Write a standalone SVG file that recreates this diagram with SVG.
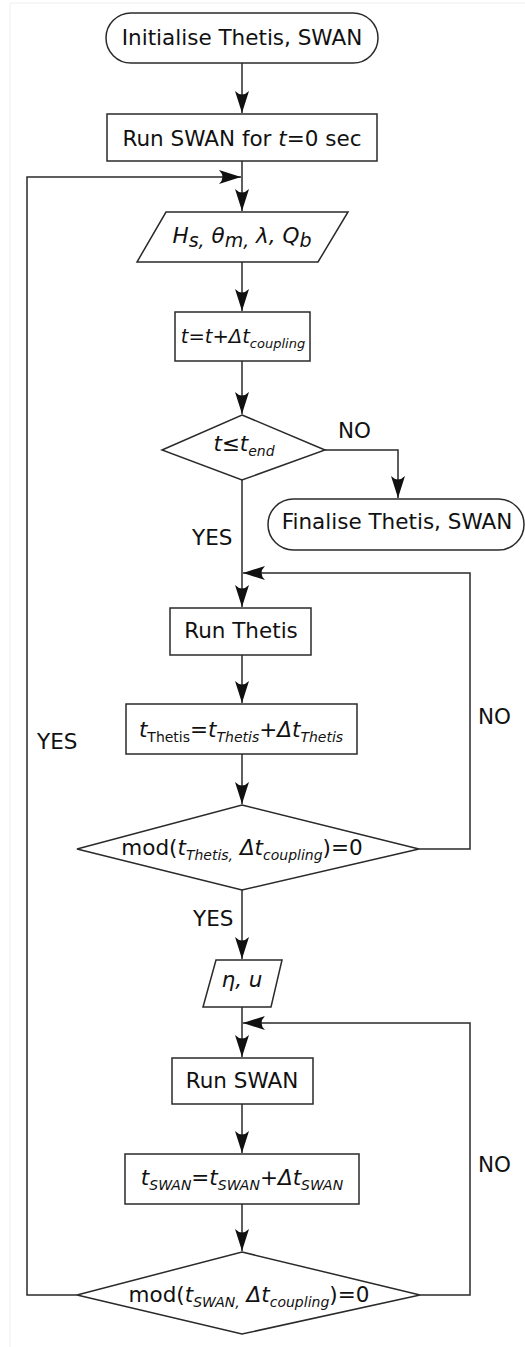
<svg xmlns="http://www.w3.org/2000/svg" width="525" height="1347" viewBox="0 0 525 1347">
<defs>
<style>
.n{fill:#fff;stroke:#2a2a2a;stroke-width:1.5}
.c{fill:none;stroke:#2a2a2a;stroke-width:1.5}
text{font-family:"DejaVu Sans",Verdana,sans-serif;font-size:21.5px;fill:#111;text-anchor:middle}
.i{font-style:italic}
.s{font-size:14px}
.s2{font-size:19px}
.lb{text-anchor:start}
</style>
<marker id="ah" markerUnits="userSpaceOnUse" markerWidth="26" markerHeight="16" viewBox="-24 -8 26 16" refX="0" refY="0" orient="auto">
<path d="M0,0 L-22,-7 Q-15,0 -22,7 Z" fill="#111"/>
</marker>
</defs>
<rect width="525" height="1347" fill="#fff"/>
<path d="M10,1347 V3 H525" fill="none" stroke="#eee" stroke-width="1"/>

<g id="connectors">
<path class="c" d="M242,63 V113" marker-end="url(#ah)"/>
<path class="c" d="M242,161 V211" marker-end="url(#ah)"/>
<path class="c" d="M77,1295 H27 V177 H241" marker-end="url(#ah)"/>
<path class="c" d="M242,262 V311" marker-end="url(#ah)"/>
<path class="c" d="M242,361 V414" marker-end="url(#ah)"/>
<path class="c" d="M325,450 H398 V498" marker-end="url(#ah)"/>
<path class="c" d="M242,480 V607" marker-end="url(#ah)"/>
<path class="c" d="M419,849 H470 V573 H243" marker-end="url(#ah)"/>
<path class="c" d="M242,655 V703" marker-end="url(#ah)"/>
<path class="c" d="M242,754 V804" marker-end="url(#ah)"/>
<path class="c" d="M242,890 V959" marker-end="url(#ah)"/>
<path class="c" d="M242,1007 V1057" marker-end="url(#ah)"/>
<path class="c" d="M420,1295 H470 V1023 H243" marker-end="url(#ah)"/>
<path class="c" d="M242,1104 V1153" marker-end="url(#ah)"/>
<path class="c" d="M242,1204 V1251" marker-end="url(#ah)"/>
<text class="lb" x="338" y="438">NO</text>
<text class="lb" x="192" y="545">YES</text>
<text class="lb" x="478" y="724">NO</text>
<text class="lb" x="193" y="926">YES</text>
<text class="lb" x="37" y="749">YES</text>
<text class="lb" x="478" y="1172">NO</text>
</g>

<g id="start">
<rect class="n" x="106" y="13" width="272" height="50" rx="25"/>
<text x="242" y="45">Initialise Thetis, SWAN</text>
</g>
<g id="run0">
<rect class="n" x="107" y="114" width="270" height="47"/>
<text x="242" y="146">Run SWAN for <tspan class="i">t</tspan>=0 sec</text>
</g>
<g id="io1">
<polygon class="n" points="166,212 348,212 318,262 137,262"/>
<text x="242" y="243" class="i">H<tspan class="s2" dy="4">s,</tspan><tspan dy="-4"> θ</tspan><tspan class="s2" dy="4">m,</tspan><tspan dy="-4"> λ, Q</tspan><tspan class="s2" dy="4">b</tspan></text>
</g>
<g id="inc">
<rect class="n" x="175" y="312" width="135" height="49"/>
<text x="243" y="343" style="font-size:19.5px"><tspan class="i">t</tspan>=<tspan class="i">t</tspan>+<tspan class="i">Δt</tspan><tspan class="i" style="font-size:13px" dy="5">coupling</tspan></text>
</g>
<g id="dec1">
<polygon class="n" points="242,415 325,450 242,480 162,450"/>
<text x="244" y="451" class="i">t≤t<tspan class="s" dy="5">end</tspan></text>
</g>
<g id="final">
<rect class="n" x="268" y="499" width="256" height="51" rx="25.5"/>
<text x="397" y="529">Finalise Thetis, SWAN</text>
</g>
<g id="runThetis">
<rect class="n" x="170" y="608" width="141" height="47"/>
<text x="241" y="638">Run Thetis</text>
</g>
<g id="tThetis">
<rect class="n" x="126" y="704" width="231" height="50"/>
<text x="241" y="737"><tspan class="i">t</tspan><tspan class="s" dy="5">Thetis</tspan><tspan dy="-5">=</tspan><tspan class="i">t</tspan><tspan class="i s" dy="5">Thetis</tspan><tspan dy="-5">+</tspan><tspan class="i">Δt</tspan><tspan class="i s" dy="5">Thetis</tspan></text>
</g>
<g id="dec2">
<polygon class="n" points="242,805 419,849 242,890 77,849"/>
<text x="242" y="855">mod(<tspan class="i">t</tspan><tspan class="i s" dy="5">Thetis,</tspan><tspan class="i" dy="-5"> Δt</tspan><tspan class="i s" dy="5">coupling</tspan><tspan dy="-5">)=0</tspan></text>
</g>
<g id="io2">
<polygon class="n" points="216,960 282,960 271,1007 203,1007"/>
<text x="242" y="987" class="i">η, u</text>
</g>
<g id="runSWAN">
<rect class="n" x="172" y="1058" width="141" height="46"/>
<text x="242" y="1088">Run SWAN</text>
</g>
<g id="tSWAN">
<rect class="n" x="125" y="1154" width="234" height="50"/>
<text x="242" y="1185" class="i">t<tspan class="s" dy="5">SWAN</tspan><tspan dy="-5">=t</tspan><tspan class="s" dy="5">SWAN</tspan><tspan dy="-5">+Δt</tspan><tspan class="s" dy="5">SWAN</tspan></text>
</g>
<g id="dec3">
<polygon class="n" points="242,1252 420,1295 242,1334 77,1295"/>
<text x="249" y="1302">mod(<tspan class="i">t</tspan><tspan class="i s" dy="5">SWAN,</tspan><tspan class="i" dy="-5"> Δt</tspan><tspan class="i s" dy="5">coupling</tspan><tspan dy="-5">)=0</tspan></text>
</g>
</svg>
